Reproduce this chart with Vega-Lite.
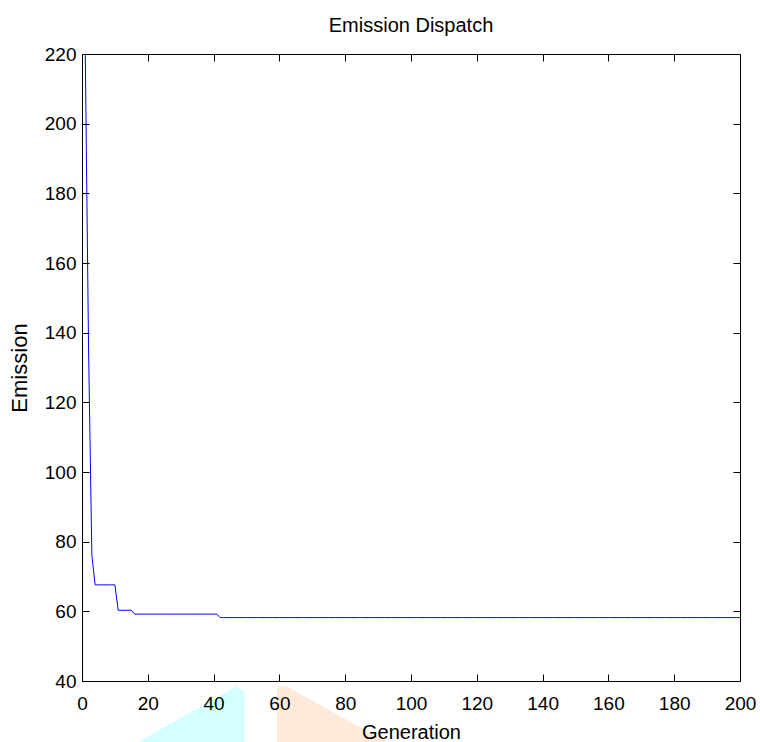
{
  "$schema": "https://vega.github.io/schema/vega-lite/v6.json",
  "autosize": {"type": "none"},
  "padding": {"left": 82, "top": 54, "right": 20, "bottom": 61},
  "width": 658,
  "height": 627,
  "background": "white",
  "title": {"text": "Emission Dispatch", "fontSize": 20, "fontWeight": "normal", "font": "Liberation Sans", "color": "black", "offset": 9},
  "config": {
    "view": {"stroke": null},
    "axis": {"domainColor": "black", "tickColor": "black", "labelColor": "black", "titleColor": "black", "labelFont": "Liberation Sans", "titleFont": "Liberation Sans", "labelFontSize": 19, "titleFontSize": 20, "titleFontWeight": "normal", "grid": false, "tickSize": -7, "domainWidth": 1, "tickWidth": 1, "labelFlush": false, "labelOverlap": false, "zindex": 2}
  },
  "datasets": {
    "patches": [
      {"shape": "cyan", "g": 17.48, "top": 22.69, "bottom": 20},
      {"shape": "cyan", "g": 46.87, "top": 38.39, "bottom": 20},
      {"shape": "cyan", "g": 49.39, "top": 37.04, "bottom": 20},
      {"shape": "peach", "g": 59.21, "top": 38.1, "bottom": 20},
      {"shape": "peach", "g": 60.64, "top": 38.62, "bottom": 20},
      {"shape": "peach", "g": 62.07, "top": 38.48, "bottom": 20},
      {"shape": "peach", "g": 92.25, "top": 22.69, "bottom": 20}
    ],
    "curve": [
      {"g":1,"e":219.8},{"g":2,"e":135},{"g":3,"e":76},{"g":4,"e":67.6},{"g":5,"e":67.6},{"g":6,"e":67.6},{"g":7,"e":67.6},{"g":8,"e":67.6},{"g":9,"e":67.6},{"g":10,"e":67.6},
      {"g":11,"e":60.3},{"g":12,"e":60.3},{"g":13,"e":60.3},{"g":14,"e":60.3},{"g":15,"e":60.3},{"g":16,"e":59.2},{"g":17,"e":59.2},{"g":18,"e":59.2},{"g":19,"e":59.2},{"g":20,"e":59.2},
      {"g":21,"e":59.2},{"g":22,"e":59.2},{"g":23,"e":59.2},{"g":24,"e":59.2},{"g":25,"e":59.2},{"g":26,"e":59.2},{"g":27,"e":59.2},{"g":28,"e":59.2},{"g":29,"e":59.2},{"g":30,"e":59.2},
      {"g":31,"e":59.2},{"g":32,"e":59.2},{"g":33,"e":59.2},{"g":34,"e":59.2},{"g":35,"e":59.2},{"g":36,"e":59.2},{"g":37,"e":59.2},{"g":38,"e":59.2},{"g":39,"e":59.2},{"g":40,"e":59.2},
      {"g":41,"e":59.2},{"g":42,"e":58.2},{"g":43,"e":58.2},{"g":44,"e":58.2},{"g":45,"e":58.2},{"g":46,"e":58.2},{"g":47,"e":58.2},{"g":48,"e":58.2},{"g":49,"e":58.2},{"g":50,"e":58.2},
      {"g":51,"e":58.2},{"g":52,"e":58.2},{"g":53,"e":58.2},{"g":54,"e":58.2},{"g":55,"e":58.2},{"g":56,"e":58.2},{"g":57,"e":58.2},{"g":58,"e":58.2},{"g":59,"e":58.2},{"g":60,"e":58.2},
      {"g":61,"e":58.2},{"g":62,"e":58.2},{"g":63,"e":58.2},{"g":64,"e":58.2},{"g":65,"e":58.2},{"g":66,"e":58.2},{"g":67,"e":58.2},{"g":68,"e":58.2},{"g":69,"e":58.2},{"g":70,"e":58.2},
      {"g":71,"e":58.2},{"g":72,"e":58.2},{"g":73,"e":58.2},{"g":74,"e":58.2},{"g":75,"e":58.2},{"g":76,"e":58.2},{"g":77,"e":58.2},{"g":78,"e":58.2},{"g":79,"e":58.2},{"g":80,"e":58.2},
      {"g":81,"e":58.2},{"g":82,"e":58.2},{"g":83,"e":58.2},{"g":84,"e":58.2},{"g":85,"e":58.2},{"g":86,"e":58.2},{"g":87,"e":58.2},{"g":88,"e":58.2},{"g":89,"e":58.2},{"g":90,"e":58.2},
      {"g":91,"e":58.2},{"g":92,"e":58.2},{"g":93,"e":58.2},{"g":94,"e":58.2},{"g":95,"e":58.2},{"g":96,"e":58.2},{"g":97,"e":58.2},{"g":98,"e":58.2},{"g":99,"e":58.2},{"g":100,"e":58.2},
      {"g":101,"e":58.2},{"g":102,"e":58.2},{"g":103,"e":58.2},{"g":104,"e":58.2},{"g":105,"e":58.2},{"g":106,"e":58.2},{"g":107,"e":58.2},{"g":108,"e":58.2},{"g":109,"e":58.2},{"g":110,"e":58.2},
      {"g":111,"e":58.2},{"g":112,"e":58.2},{"g":113,"e":58.2},{"g":114,"e":58.2},{"g":115,"e":58.2},{"g":116,"e":58.2},{"g":117,"e":58.2},{"g":118,"e":58.2},{"g":119,"e":58.2},{"g":120,"e":58.2},
      {"g":121,"e":58.2},{"g":122,"e":58.2},{"g":123,"e":58.2},{"g":124,"e":58.2},{"g":125,"e":58.2},{"g":126,"e":58.2},{"g":127,"e":58.2},{"g":128,"e":58.2},{"g":129,"e":58.2},{"g":130,"e":58.2},
      {"g":131,"e":58.2},{"g":132,"e":58.2},{"g":133,"e":58.2},{"g":134,"e":58.2},{"g":135,"e":58.2},{"g":136,"e":58.2},{"g":137,"e":58.2},{"g":138,"e":58.2},{"g":139,"e":58.2},{"g":140,"e":58.2},
      {"g":141,"e":58.2},{"g":142,"e":58.2},{"g":143,"e":58.2},{"g":144,"e":58.2},{"g":145,"e":58.2},{"g":146,"e":58.2},{"g":147,"e":58.2},{"g":148,"e":58.2},{"g":149,"e":58.2},{"g":150,"e":58.2},
      {"g":151,"e":58.2},{"g":152,"e":58.2},{"g":153,"e":58.2},{"g":154,"e":58.2},{"g":155,"e":58.2},{"g":156,"e":58.2},{"g":157,"e":58.2},{"g":158,"e":58.2},{"g":159,"e":58.2},{"g":160,"e":58.2},
      {"g":161,"e":58.2},{"g":162,"e":58.2},{"g":163,"e":58.2},{"g":164,"e":58.2},{"g":165,"e":58.2},{"g":166,"e":58.2},{"g":167,"e":58.2},{"g":168,"e":58.2},{"g":169,"e":58.2},{"g":170,"e":58.2},
      {"g":171,"e":58.2},{"g":172,"e":58.2},{"g":173,"e":58.2},{"g":174,"e":58.2},{"g":175,"e":58.2},{"g":176,"e":58.2},{"g":177,"e":58.2},{"g":178,"e":58.2},{"g":179,"e":58.2},{"g":180,"e":58.2},
      {"g":181,"e":58.2},{"g":182,"e":58.2},{"g":183,"e":58.2},{"g":184,"e":58.2},{"g":185,"e":58.2},{"g":186,"e":58.2},{"g":187,"e":58.2},{"g":188,"e":58.2},{"g":189,"e":58.2},{"g":190,"e":58.2},
      {"g":191,"e":58.2},{"g":192,"e":58.2},{"g":193,"e":58.2},{"g":194,"e":58.2},{"g":195,"e":58.2},{"g":196,"e":58.2},{"g":197,"e":58.2},{"g":198,"e":58.2},{"g":199,"e":58.2},{"g":200,"e":58.2}
    ]
  },
  "layer": [
    {
      "data": {"name": "patches"},
      "mark": {"type": "area", "clip": false, "opacity": 1},
      "encoding": {
        "x": {"field": "g", "type": "quantitative", "scale": {"domain": [0, 200], "nice": false, "zero": false}, "axis": null},
        "y": {"field": "top", "type": "quantitative", "scale": {"domain": [40, 220], "nice": false, "zero": false}, "axis": null},
        "y2": {"field": "bottom"},
        "color": {"field": "shape", "type": "nominal", "scale": {"domain": ["cyan", "peach"], "range": ["#d4ffff", "#fdeadb"]}, "legend": null}
      }
    },
    {
      "data": {"name": "curve"},
      "mark": {"type": "line", "color": "#0000ff", "strokeWidth": 1, "clip": true},
      "encoding": {
        "x": {"field": "g", "type": "quantitative", "scale": {"domain": [0, 200], "nice": false, "zero": false},
              "axis": {"orient": "bottom", "zindex": 2, "values": [0,20,40,60,80,100,120,140,160,180,200], "title": "Generation", "labelPadding": 20, "titlePadding": 9}},
        "y": {"field": "e", "type": "quantitative", "scale": {"domain": [40, 220], "nice": false, "zero": false},
              "axis": {"orient": "left", "zindex": 2, "values": [40,60,80,100,120,140,160,180,200,220], "title": "Emission", "titleFontSize": 22, "labelPadding": 13, "titlePadding": 13}}
      }
    },
    {
      "data": {"name": "curve"},
      "mark": {"type": "line", "strokeOpacity": 0},
      "encoding": {
        "x": {"field": "g", "type": "quantitative", "scale": {"domain": [0, 200], "nice": false, "zero": false},
              "axis": {"orient": "top", "zindex": 2, "values": [0,20,40,60,80,100,120,140,160,180,200], "labels": false, "title": null}},
        "y": {"field": "e", "type": "quantitative", "scale": {"domain": [40, 220], "nice": false, "zero": false},
              "axis": {"orient": "right", "zindex": 2, "values": [40,60,80,100,120,140,160,180,200,220], "labels": false, "title": null}}
      }
    }
  ]
}
